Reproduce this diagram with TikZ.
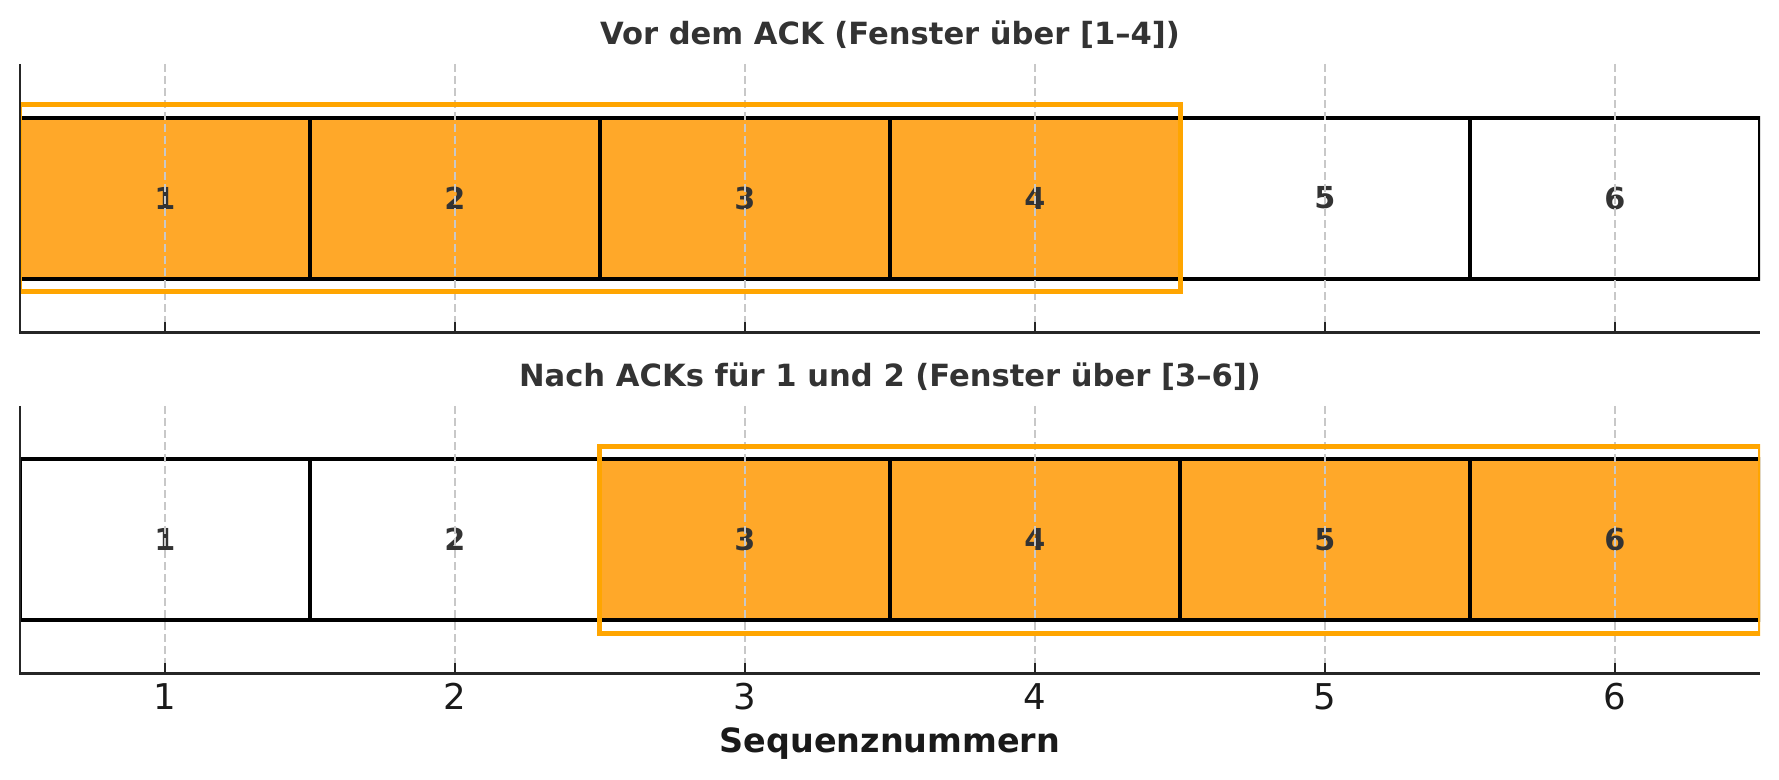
\documentclass[tikz,border=0pt]{standalone}
\usepackage{fontspec}
\setmainfont{DejaVu Sans}
\definecolor{winorange}{RGB}{255,165,0}
\definecolor{cellorange}{RGB}{255,168,41}
\definecolor{labelgray}{RGB}{51,51,51}
\definecolor{inkgray}{RGB}{26,26,26}
\definecolor{spinegray}{RGB}{38,38,38}
\definecolor{gridgray}{RGB}{200,200,200}
\tikzset{
  cell/.style    = {draw=black, line width=0.42mm, fill=white, inner sep=0pt,
                    minimum width=2.9cm, minimum height=1.608cm,
                    text=labelgray, font=\fontsize{8.6}{10}\selectfont\bfseries},
  cellon/.style  = {cell, fill=cellorange},
  win/.style     = {draw=winorange, line width=0.5mm},
  spine/.style   = {draw=spinegray, line width=0.25mm},
  tickln/.style  = {draw=spinegray, line width=0.2mm},
  gridln/.style  = {draw=gridgray, line width=0.15mm, dash pattern=on 0.8mm off 0.4mm},
  ptitle/.style  = {anchor=base, text=labelgray, font=\fontsize{8.7}{10}\selectfont\bfseries},
  ticklab/.style = {anchor=base, text=inkgray, font=\fontsize{10.1}{12}\selectfont},
  xlab/.style    = {anchor=base, text=inkgray, font=\fontsize{9.5}{11}\selectfont\bfseries},
}

\begin{document}
\begin{tikzpicture}[x=0.01cm, y=-0.01cm]
    \useasboundingbox (0,0) rectangle (1779,780);

    % oberes Feld: vor dem ACK
    \node[ptitle] (t1) at (890, 45) {Vor dem ACK (Fenster über [1–4])};
    \begin{scope}
      \clip (19.9, 64) rectangle (1760, 332.3);
      \foreach \i/\st in {1/cellon, 2/cellon, 3/cellon, 4/cellon, 5/cell, 6/cell}
        \node[\st] (a\i) at ({-125.1+290*\i}, 198.2) {\i};
      \foreach \i in {1,...,6}
        \draw[gridln] ({-125.1+290*\i}, 64) -- ({-125.1+290*\i}, 332.3);
      \draw[win] (19.9, 104.2) rectangle (1180, 292);
    \end{scope}
    \foreach \i in {1,...,6}
      \draw[tickln] ({-125.1+290*\i}, 332.3) -- ({-125.1+290*\i}, 321.6);
    \draw[spine] (19.9, 64) -- (19.9, 332.3) -- (1760, 332.3);

    % unteres Feld: nach den ACKs
    \node[ptitle] (t2) at (890, 386.6) {Nach ACKs für 1 und 2 (Fenster über [3–6])};
    \begin{scope}
      \clip (19.9, 406) rectangle (1760, 673.3);
      \foreach \i/\st in {1/cell, 2/cell, 3/cellon, 4/cellon, 5/cellon, 6/cellon}
        \node[\st] (b\i) at ({-125.1+290*\i}, 539.7) {\i};
      \foreach \i in {1,...,6}
        \draw[gridln] ({-125.1+290*\i}, 406) -- ({-125.1+290*\i}, 673.3);
      \draw[win] (599.9, 446.1) rectangle (1760, 633.2);
    \end{scope}
    \foreach \i in {1,...,6} {
      \draw[tickln] ({-125.1+290*\i}, 673.3) -- ({-125.1+290*\i}, 662.6);
      \node[ticklab] (k\i) at ({-125.1+290*\i}, 709.3) {\i};
    }
    \draw[spine] (19.9, 406) -- (19.9, 673.3) -- (1760, 673.3);

    \node[xlab] (xl) at (890, 753) {Sequenznummern};
\end{tikzpicture}
\end{document}
